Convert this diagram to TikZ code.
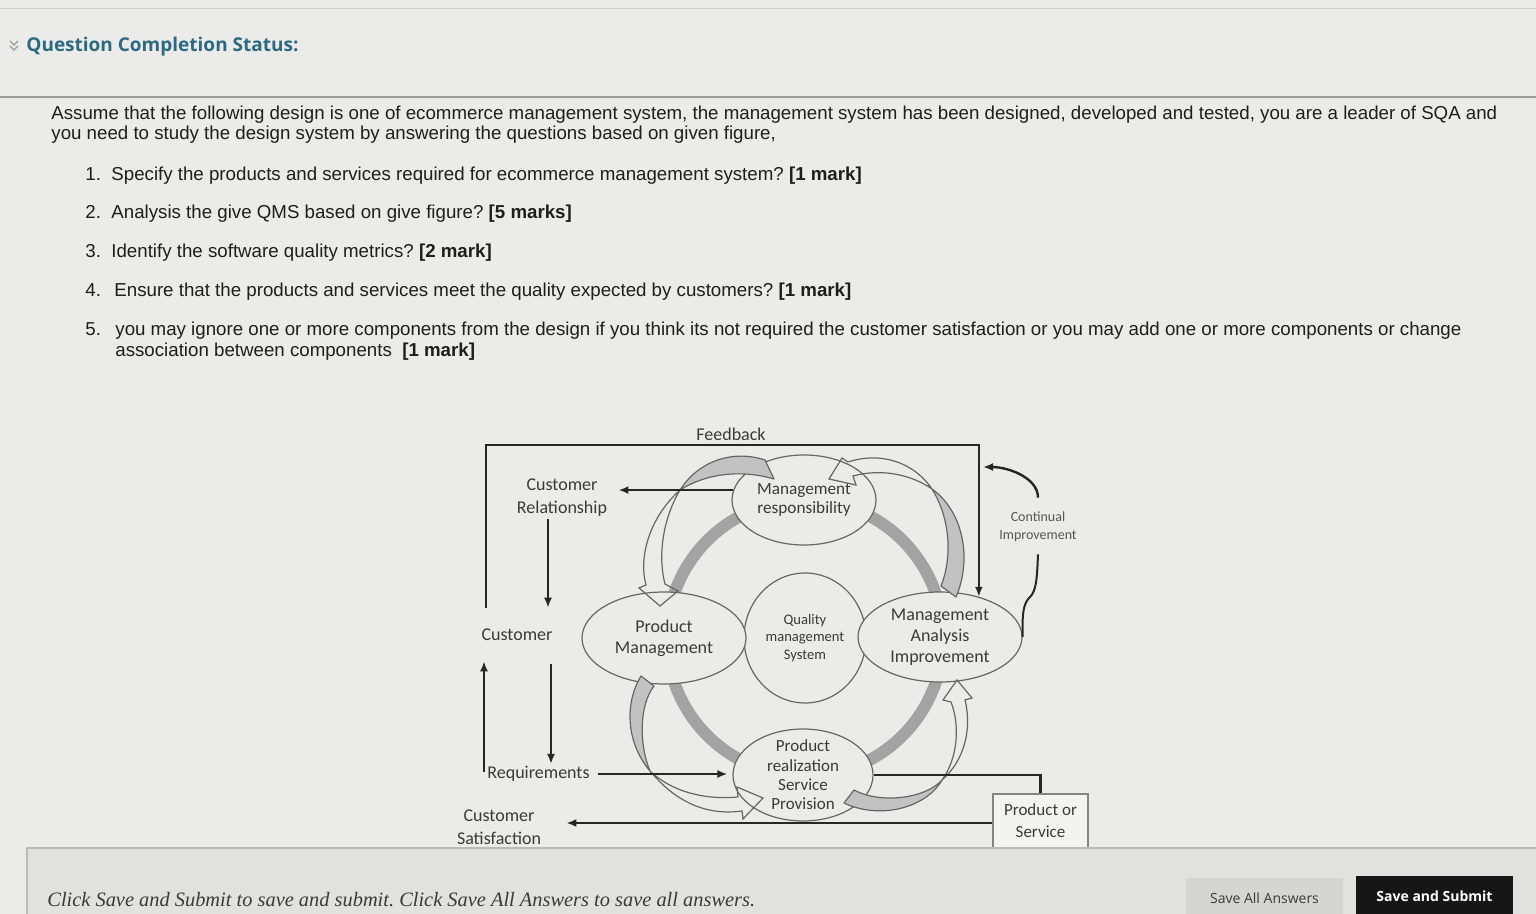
\documentclass[tikz,border=0pt]{standalone}
\usepackage{fontspec}
\setmainfont{Liberation Sans}
\newfontfamily\figfont{Carlito}
\newfontfamily\uifont{Open Sans}
\newfontfamily\footfont{Liberation Serif}
\usetikzlibrary{arrows.meta, positioning, shapes.geometric}
\frenchspacing

\definecolor{pagebg}{HTML}{EBEBE9}
\definecolor{panelbg}{HTML}{E1E1DF}
\definecolor{rulegray}{HTML}{9C9C9C}
\definecolor{titleteal}{HTML}{2D6A82}
\definecolor{ringgray}{HTML}{A3A3A3}
\definecolor{ribbongray}{HTML}{C2C2C2}
\definecolor{inkgray}{HTML}{3A3A3A}
\definecolor{edgegray}{HTML}{666666}
\definecolor{btngray}{HTML}{D5D5D3}
\definecolor{btnblack}{HTML}{161616}
\definecolor{bodyink}{HTML}{1E1E1E}

\newcommand{\bodysize}{\fontsize{9.35}{11}\selectfont}

\begin{document}
\begin{tikzpicture}[x=0.5pt, y=-0.5pt,
		stage/.style={ellipse, draw=edgegray, line width=0.6pt, fill=pagebg, inner sep=0pt, align=center, text=inkgray, font=\figfont\fontsize{9}{10.5}\selectfont},
		note/.style={inner sep=0pt, align=center, text=inkgray, font=\figfont\fontsize{9}{11.5}\selectfont},
		line/.style={draw=black!85, line width=1.2pt},
		arrow/.style={line, -{Latex[length=5pt, width=4pt]}},
		ribbon/.style={draw=edgegray, line width=0.6pt, fill=ribbongray, line join=round},
		ribbonhead/.style={draw=edgegray, line width=0.6pt, line join=miter},
		ring/.style={draw=ringgray, line width=6pt},
		para/.style={anchor=base west, inner sep=0pt, text=bodyink, font=\bodysize},
		button/.style={minimum width=78.5pt, minimum height=20pt, inner sep=0pt, font=\uifont\fontsize{7}{8}\selectfont}
		]
		
		\useasboundingbox (0,0) rectangle (1536,914);
		\clip (0,0) rectangle (1536,914);
		\fill[pagebg] (0,0) rectangle (1536,914);
		
		% Page header
		\draw[rulegray!50, line width=0.5pt] (0,9) -- (1536,9);
		\draw[rulegray, line width=0.6pt] (0,97) -- (1536,97);
		\draw[rulegray, line width=0.7pt] (10,41) -- (14,45) -- (18,41) (10,46) -- (14,50) -- (18,46);
		\node[anchor=west, inner sep=0pt, text=titleteal, font=\uifont\bfseries\fontsize{9.5}{11}\selectfont] (status) at (26,47) {Question Completion Status:};
		
		% Question text
		\node[para] (intro1) at (51,120) {Assume that the following design is one of ecommerce management system, the management system has been designed, developed and tested, you are a leader of SQA and};
		\node[para] (intro2) at (51,140) {you need to study the design system by answering the questions based on given figure,};
		\foreach \n/\y in {1/181, 2/219, 3/258, 4/297, 5/336}
			\node[para] (num\n) at (85,\y) {\n.};
		\node[para] (q1) at (111,181) {Specify the products and services required for ecommerce management system? \textbf{[1 mark]}};
		\node[para] (q2) at (111,219) {Analysis the give QMS based on give figure? \textbf{[5 marks]}};
		\node[para] (q3) at (111,258) {Identify the software quality metrics? \textbf{[2 mark]}};
		\node[para] (q4) at (114,297) {Ensure that the products and services meet the quality expected by customers? \textbf{[1 mark]}};
		\node[para] (q5) at (115,336) {you may ignore one or more components from the design if you think its not required the customer satisfaction or you may add one or more components or change};
		\node[para] (q5b) at (115,357) {association between components\ \ \textbf{[1 mark]}};
		
		% QMS core and ring
		\node[stage, minimum width=61pt, minimum height=65pt, font=\figfont\fontsize{7.3}{8.7}\selectfont] (qms) at (805,638) {Quality\\management\\System};
		\draw[ring] (qms.center) circle[radius=138];
		
		% Process stages
		\node[stage, minimum width=72pt, minimum height=45pt, font=\figfont\fontsize{8.6}{9.6}\selectfont] (mr) at (804,500) {Management\\responsibility};
		\node[stage, minimum width=82pt, minimum height=46pt] (pm) at (664,638) {Product\\Management};
		\node[stage, minimum width=82pt, minimum height=45pt] (mai) at (940,637) {Management\\Analysis\\Improvement};
		\node[stage, minimum width=70pt, minimum height=46pt, inner ysep=-6pt, font=\figfont\fontsize{8.5}{9.7}\selectfont] (pr) at (803,775) {Product\\realization\\Service\\Provision};
		
		% Curved cycle arrows
		\draw[ribbon] (941,586) .. controls (952,558) and (951,520) .. (932,489) .. controls (964,512) and (972,560) .. (956,597) -- cycle;
		\draw[ribbonhead] (932,489) .. controls (912,460) and (878,452) .. (848,462) -- (842,458) -- (829,479) -- (856,485) -- (853,476) .. controls (882,468) and (912,475) .. (932,489);
		\draw[ribbon] (765,460) .. controls (735,450) and (700,459) .. (680,490) .. controls (705,474) and (740,469) .. (774,479) -- cycle;
		\draw[ribbonhead] (680,490) .. controls (647,520) and (639,560) .. (646,585) -- (639,588) -- (660,606) -- (678,591) -- (665,584) .. controls (658,558) and (662,520) .. (680,490);
		\draw[ribbon] (641,676) .. controls (626,700) and (624,740) .. (650,771) .. controls (639,745) and (639,705) .. (654,686) -- cycle;
		\draw[ribbonhead] (650,771) .. controls (675,801) and (705,816) .. (742,811) -- (743,819) -- (763,798) -- (737,787) -- (738,797) .. controls (705,800) and (672,792) .. (650,771);
		\draw[ribbon] (844,803) .. controls (880,820) and (926,808) .. (942,780) .. controls (925,799) and (880,804) .. (854,790) -- cycle;
		\draw[ribbonhead] (942,780) .. controls (958,758) and (960,725) .. (951,702) -- (943,700) -- (957,680) -- (972,698) -- (965,700) .. controls (972,728) and (965,760) .. (942,780);
		
		% Customer side
		\node[note] (cr) at (562,498) {Customer\\Relationship};
		\node[note] (customer) at (517,635) {Customer};
		\node[note, anchor=west] (req) at (487,774) {Requirements};
		\node[note] (cs) at (499,827) {Customer\\Satisfaction};
		\node[note, draw=edgegray!80, line width=0.6pt, fill=pagebg!60!white, minimum width=47.5pt, minimum height=27pt, font=\figfont\fontsize{8.5}{11}\selectfont] (pos) at (1040.5,821) {Product or\\Service};
		\node[note, text=inkgray!85, font=\figfont\fontsize{7}{9}\selectfont] (ci) at (1038,527) {Continual\\Improvement};
		
		% Loose ends
		\coordinate (fbstart) at (486,608);
		\coordinate (fbtop) at (731,445);
		\coordinate (ciend) at (983,467);
		\node[note, above=2pt of fbtop] (feedback) {Feedback};
		
		% Connectors
		\draw[arrow] (fbstart) |- (fbtop) -| (mai.46);
		\draw[arrow, shorten >=5.5pt] (mr.172) -- (mr.172 -| cr.east);
		\draw[arrow, shorten <=1pt, shorten >=10.5pt] ([xshift=-7pt]cr.south) -- ([xshift=-7pt]cr.south |- customer.north);
		\draw[arrow, shorten <=11.5pt, shorten >=1pt] ([xshift=17pt]customer.south) -- ([xshift=17pt]customer.south |- req.north);
		\draw[arrow, shorten <=18.5pt, shorten >=10pt] ([xshift=-7.5pt]cs.north) -- ([xshift=-7.5pt]cs.north |- customer.south);
		\draw[arrow, shorten <=4pt, shorten >=2.5pt] (req.east) -- (req.east -| pr.west);
		\draw[line] (pr.east) -| (pos.north);
		\draw[arrow, shorten >=12.5pt] ([yshift=-1pt]pos.west) -- ([yshift=-1pt]pos.west -| cs.east);
		\draw[arrow] ([yshift=7pt]ci.north) .. controls +(0,-20) and +(25,0) .. (ciend);
		\draw[line, line width=1pt] ([yshift=-6pt]ci.south) .. controls (1037,580) and (1036,591) .. (1030,597) .. controls (1024,603) and (1022,610) .. (mai.east);
		
		% Page footer
		\fill[panelbg] (27,848) rectangle (1540,918);
		\draw[rulegray!70, line width=0.6pt] (27,918) -- (27,848) -- (1540,848);
		\node[anchor=base west, inner sep=0pt, text=inkgray, font=\footfont\itshape\fontsize{10.2}{12}\selectfont] (hint) at (47,906) {Click Save and Submit to save and submit. Click Save All Answers to save all answers.};
		\node[button, fill=btngray, text=inkgray] (saveall) at (1264.5,898) {Save All Answers};
		\node[button, fill=btnblack, text=white, font=\uifont\bfseries\fontsize{7}{8}\selectfont] (submit) at (1434.5,896) {Save and Submit};
		
	\end{tikzpicture}
\end{document}
